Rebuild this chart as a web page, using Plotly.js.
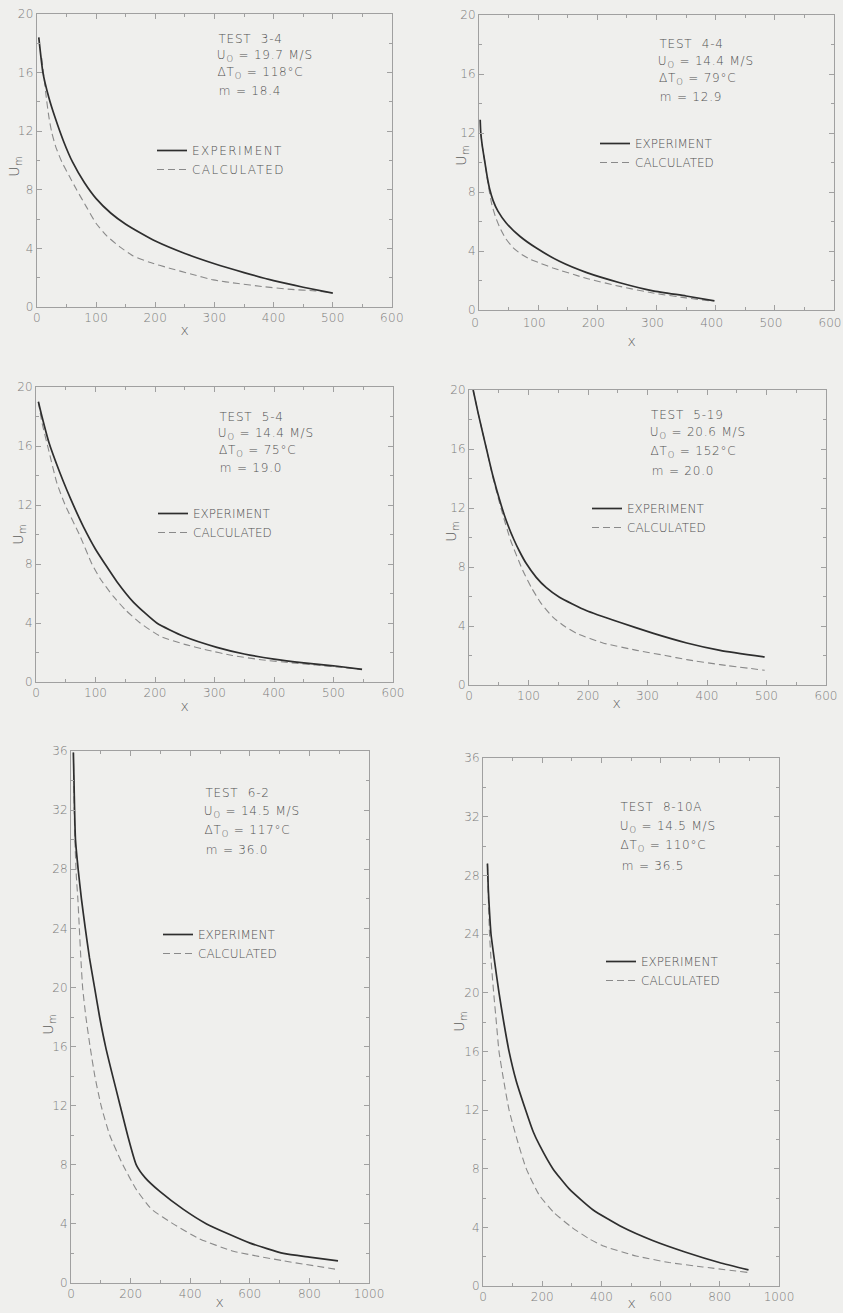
<!DOCTYPE html>
<html>
<head>
<meta charset="utf-8">
<script src="https://cdn.plot.ly/plotly-3.0.1.min.js"></script>
<style>
  html, body { margin: 0; padding: 0; background: #efefed; }
  #chart { width: 843px; height: 1313px; }
  .js-plotly-plot .xtick text, .js-plotly-plot .ytick text { letter-spacing: 0.3px; }
  .js-plotly-plot .annotation-text { letter-spacing: 0.8px; }
  .js-plotly-plot .legendtext { letter-spacing: 1.4px; }
  .js-plotly-plot .legend .scrollbox, .js-plotly-plot .legend { clip-path: none !important; }
</style>
</head>
<body>
<div id="chart"></div>
<script>
// ---------- data ----------
const seriesNames = ["EXPERIMENT", "CALCULATED"];

const x1exp = [3,10,20,30,45,60,80,100,125,150,175,200,250,300,350,400,450,500];
const y1exp = [18.4,16.0,14.3,13.0,11.3,9.9,8.5,7.4,6.4,5.65,5.05,4.5,3.65,2.95,2.35,1.8,1.35,0.95];
const x1calc = [8,12,16,20,25,32,42,55,67,84,100,118,140,162,190,224,260,298,340,380,430,470,495];
const y1calc = [17.0,15.6,14.2,13.0,11.9,10.9,9.9,8.9,8.0,6.8,5.7,4.85,4.1,3.5,3.05,2.65,2.25,1.85,1.6,1.4,1.2,1.1,1.0];

const x2exp = [2,3,6,10,14,18,24,32,46,69,97,136,181,238,294,350,398];
const y2exp = [12.9,12.0,11.0,10.0,9.0,8.2,7.4,6.7,5.9,5.0,4.2,3.3,2.55,1.85,1.3,0.95,0.62];
const x2calc = [3,6,10,14,18,22,28,35,45,57,69,86,105,125,181,238,294,350,395];
const y2calc = [12.0,11.0,10.0,8.9,7.9,7.1,6.3,5.6,4.85,4.25,3.85,3.45,3.15,2.85,2.15,1.6,1.15,0.82,0.6];

const x3exp = [4,10,22,40,52,66,80,100,116,136,164,203,248,304,350,400,450,500,548];
const y3exp = [19.0,18.0,16.2,14.2,13.0,11.7,10.5,9.0,8.0,6.8,5.4,4.0,3.1,2.35,1.9,1.55,1.3,1.1,0.86];
const x3calc = [4,10,22,35,49,74,94,108,130,150,175,209,250,287,330,382,430,470,510,548];
const y3calc = [19.0,17.6,15.6,13.5,12.0,9.9,8.0,7.0,5.8,4.9,4.0,3.1,2.55,2.17,1.8,1.49,1.3,1.15,1.0,0.86];

const x4exp = [7,15,23,30,40,54,63,75,85,96,113,130,152,197,253,310,366,422,497];
const y4exp = [20.0,18.5,17.1,15.9,14.2,12.2,11.1,9.9,9.05,8.25,7.3,6.6,5.95,5.05,4.25,3.5,2.85,2.35,1.9];
const x4calc = [7,15,23,30,40,55,70,90,105,120,141,160,181,225,282,330,366,422,497];
const y4calc = [20.0,18.5,17.1,15.9,14.1,11.8,9.8,7.8,6.6,5.6,4.6,4.0,3.5,2.85,2.35,2.0,1.72,1.38,1.0];

const x5exp = [8,10,12,15,24,35,48,62,79,96,116,140,165,190,219,250,298,376,455,601,713,800,896];
const y5exp = [35.9,34,32,30,28,26,24,22,20,18,16,14,12,10,8,7.1,6.2,5.0,4.0,2.7,2.0,1.75,1.5];
const x5calc = [8,10,13,18,23,28,33,39,50,64,80,101,130,174,220,270,343,430,545,713,899];
const y5calc = [35.9,33,30,27.5,26,24,22,20,18,16,14,12,10,8,6.3,5.0,4.0,3.0,2.15,1.5,0.9];

const x6exp = [15,18,22,27,40,54,70,88,112,144,170,191,236,292,371,472,573,685,798,897];
const y6exp = [28.8,27,25.5,24,22,20,18,16,14,12,10.5,9.6,8.0,6.6,5.2,4.0,3.1,2.3,1.6,1.1];
const x6calc = [15,18,22,28,36,45,54,70,88,115,146,190,240,300,360,404,517,629,742,893];
const y6calc = [28.8,26.5,24,22,20,18,16,14,12,10,8,6.2,5.0,4.0,3.2,2.75,2.05,1.6,1.3,0.93];

const testNames = ["TEST  3-4", "TEST  4-4", "TEST  5-4", "TEST  5-19", "TEST  6-2", "TEST  8-10A"];
const u0Values = ["19.7", "14.4", "14.4", "20.6", "14.5", "14.5"];
const dT0Values = ["118", "79", "75", "152", "117", "110"];
const mValues = ["18.4", "12.9", "19.0", "20.0", "36.0", "36.5"];
const yTitle = "U<sub>m</sub>";
const xTitle = "x";

const xRanges = [[0,600],[0,600],[0,600],[0,600],[0,1000],[0,1000]];
const yRanges = [[0,20],[0,20],[0,20],[0,20],[0,36],[0,36]];
const xDticks = [100,100,100,100,200,200];
const xMinor = [50,50,50,50,100,100];

const expX = [x1exp, x2exp, x3exp, x4exp, x5exp, x6exp];
const expY = [y1exp, y2exp, y3exp, y4exp, y5exp, y6exp];
const calcX = [x1calc, x2calc, x3calc, x4calc, x5calc, x6calc];
const calcY = [y1calc, y2calc, y3calc, y4calc, y5calc, y6calc];

// ---------- layout geometry (pixels of the 843x1313 page) ----------
const W = 843, H = 1313;
// [left, right, top, bottom]
const boxes = [
  [37, 392, 14, 307],
  [479, 834, 15, 310],
  [36, 393, 387, 682],
  [469, 826, 390, 685],
  [71, 369, 751, 1283],
  [483, 779, 758, 1286]
];
// x tick label shift / standoff (px) so the last label stays on the page
const xLabelShift = [0, -4, 0, 0, 0, 0];
const xLabelStandoff = [0, 2, 0, 0, 0, 0];
// annotation block: left x, first line y, line step
const infoPos = [
  [220, 39, 17.2], [661, 44, 17.7], [221, 417, 17], [653, 415, 18.5], [207, 793, 19], [623, 807, 19.5]
];
// legend: line start x, first item y
const legPos = [[157, 150], [600, 143], [158, 513], [592, 508], [163, 934], [606, 961]];
// x title: data x, page y
const xTitlePos = [[250, 330], [259, 341], [250, 706], [249, 703], [500, 1302], [503, 1303]];
// y title: page x, page y
const yTitlePos = [[15, 166], [462, 155], [19, 534], [452, 531], [49, 1024], [460, 1021]];

const px = v => v / W;
const py = v => 1 - v / H;

const FONT = "DejaVu Sans, Liberation Sans, sans-serif";
const tickFont = {family: FONT, size: 12, color: "#7c7c7c", weight: 300};
const textFont = {family: FONT, size: 12, color: "#525252", weight: 300};
const legFont = {family: FONT, size: 12, color: "#525252", weight: 300};
const titleFont = {family: FONT, size: 14, color: "#5e5e5e", weight: 300};

const traces = [];
const layout = {
  width: W, height: H,
  margin: {l: 0, r: 0, t: 0, b: 0, pad: 0},
  paper_bgcolor: "#efefed",
  plot_bgcolor: "#efefed",
  showlegend: true,
  annotations: [],
  font: {family: FONT}
};

for (let i = 0; i < 6; i++) {
  const n = i + 1;
  const xa = n === 1 ? "xaxis" : "xaxis" + n;
  const ya = n === 1 ? "yaxis" : "yaxis" + n;
  const xr = n === 1 ? "x" : "x" + n;
  const yr = n === 1 ? "y" : "y" + n;
  const lg = n === 1 ? "legend" : "legend" + n;
  const [L, R, T, B] = boxes[i];

  traces.push({
    x: calcX[i], y: calcY[i], xaxis: xr, yaxis: yr, type: "scatter", mode: "lines",
    name: seriesNames[1], legend: lg, legendrank: 2,
    line: {color: "#8a8a8a", width: 1.1, dash: "7px,4px", shape: "spline", smoothing: 0.5},
    hoverinfo: "skip"
  });
  traces.push({
    x: expX[i], y: expY[i], xaxis: xr, yaxis: yr, type: "scatter", mode: "lines",
    name: seriesNames[0], legend: lg, legendrank: 1,
    line: {color: "#2e2e2e", width: 1.7, shape: "spline", smoothing: 0.5},
    hoverinfo: "skip"
  });

  const axCommon = {
    showline: true, linecolor: "#a0a0a0", linewidth: 1, mirror: "ticks",
    ticks: "inside", ticklen: 5, tickcolor: "#a0a0a0", tickwidth: 1,
    showgrid: false, zeroline: false, tickfont: tickFont, automargin: false, fixedrange: true,
    ticklabeloverflow: "allow"
  };
  layout[xa] = Object.assign({}, axCommon, {
    domain: [px(L), px(R)], anchor: yr, range: xRanges[i],
    tick0: 0, dtick: xDticks[i],
    ticklabelshift: xLabelShift[i], ticklabelstandoff: xLabelStandoff[i],
    minor: {dtick: xMinor[i], ticks: "inside", ticklen: 3, tickcolor: "#a0a0a0"}
  });
  layout[ya] = Object.assign({}, axCommon, {
    domain: [py(B), py(T)], anchor: xr, range: yRanges[i],
    tick0: 0, dtick: 4,
    minor: {dtick: 2, ticks: "inside", ticklen: 3, tickcolor: "#a0a0a0"}
  });

  const [lx, ly] = legPos[i];
  layout[lg] = {
    x: px(lx - 5), y: py(ly - 14), xanchor: "left", yanchor: "top",
    bgcolor: "rgba(0,0,0,0)", borderwidth: 0, font: legFont,
    tracegroupgap: 0, traceorder: "normal", itemclick: false, itemdoubleclick: false,
    entrywidth: 140, entrywidthmode: "pixels"
  };

  const [ix, iy, step] = infoPos[i];
  const lines = [
    testNames[i],
    "U<sub>O</sub> = " + u0Values[i] + " M/S",
    "\u0394T<sub>O</sub> = " + dT0Values[i] + "\u00b0C",
    "m = " + mValues[i]
  ];
  lines.forEach((t, k) => {
    layout.annotations.push({
      text: t, xref: "paper", yref: "paper", x: px(ix), y: py(iy + k * step),
      xanchor: "left", yanchor: "middle", showarrow: false, font: textFont
    });
  });

  const [tx, ty] = xTitlePos[i];
  layout.annotations.push({
    text: xTitle, xref: xr, yref: "paper", x: tx, y: py(ty),
    xanchor: "center", yanchor: "middle", showarrow: false, font: titleFont
  });
  const [yx, yy] = yTitlePos[i];
  layout.annotations.push({
    text: yTitle, xref: "paper", yref: "paper", x: px(yx), y: py(yy),
    xanchor: "center", yanchor: "middle", textangle: -90, showarrow: false, font: titleFont
  });
}

Plotly.newPlot("chart", traces, layout, {displayModeBar: false, staticPlot: true});
</script>
</body>
</html>
